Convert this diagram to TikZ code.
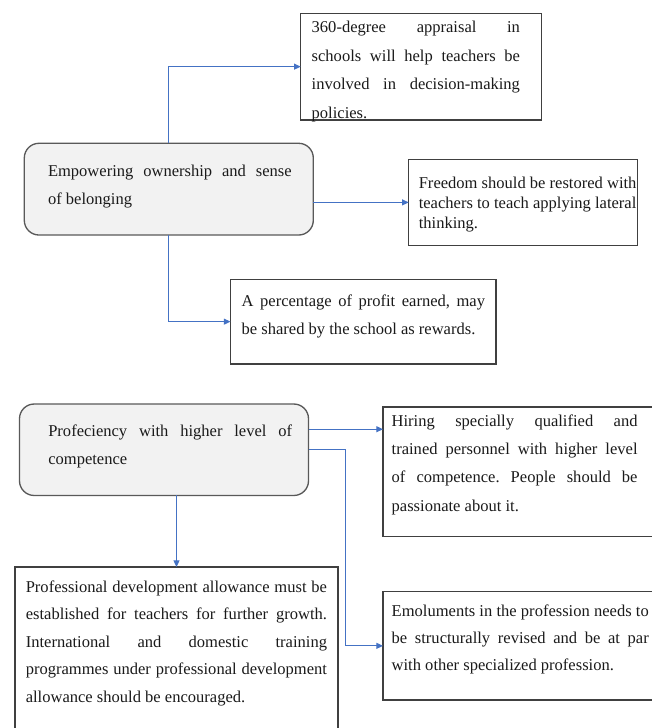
\documentclass[tikz,border=0pt]{standalone}
\usepackage{fontspec}
\setmainfont{Liberation Serif}
\usetikzlibrary{arrows.meta}
\definecolor{arrowblue}{HTML}{4472C4}
\definecolor{boxline}{HTML}{404040}
\definecolor{roundline}{HTML}{595959}
\definecolor{roundfill}{HTML}{F2F2F2}
\definecolor{txt}{HTML}{1A1A1A}
\newcommand{\jl}[2]{\makebox[#1][s]{#2}}
\newcommand{\fr}{\rule{0pt}{9pt}}
\frenchspacing
\tikzset{
  sqbox/.style={draw=boxline, line width=0.8pt, rectangle, inner sep=0pt, outer sep=0pt, fill=white},
  rbox/.style={draw=roundline, line width=1pt, fill=roundfill, rounded corners=11pt, rectangle, inner sep=0pt, outer sep=0pt},
  txtnode/.style={anchor=north west, inner sep=0pt, outer sep=0pt, align=left, text=txt},
  conn/.style={draw=arrowblue, line width=0.8pt, -{Triangle[length=5pt,width=4.5pt]}},
}
\begin{document}
\begin{tikzpicture}[x=0.75pt,y=-0.75pt]
\useasboundingbox (0,0) rectangle (651,728);
% boxes
\node[sqbox, minimum width=180.75pt, minimum height=80pt] (A) at (421.2,66.65) {};
\node[rbox, minimum width=216.75pt, minimum height=68.8pt] (E1) at (168.8,189.15) {};
\node[sqbox, minimum width=171.6pt, minimum height=64.65pt] (B) at (523.1,202.4) {};
\node[sqbox, minimum width=199.1pt, minimum height=63.5pt] (C) at (363.25,321.65) {};
\node[rbox, minimum width=216.75pt, minimum height=68.6pt] (P) at (164,449.75) {};
\node[sqbox, minimum width=204pt, minimum height=97.3pt] (H) at (519,471.85) {};
\node[sqbox, minimum width=204pt, minimum height=81.2pt] (Em) at (519,645.85) {};
\node[sqbox, minimum width=242.25pt, minimum height=126pt] (D) at (176.5,651) {};
% texts
\node[txtnode, font=\fontsize{12.4pt}{21.5pt}\selectfont] (tA) at (311.7,20.5) {\fr\jl{156.2pt}{360-degree appraisal in}\\
\jl{156.2pt}{schools will help teachers be}\\
\jl{156.2pt}{involved in decision-making}\\
policies.};
\node[txtnode, font=\fontsize{12.4pt}{21pt}\selectfont] (tE1) at (48,164.5) {\fr\jl{182.8pt}{Empowering ownership and sense}\\
of belonging};
\node[txtnode, font=\fontsize{12.4pt}{15pt}\selectfont] (tB) at (418.8,176.5) {\fr Freedom should be restored with\\
teachers to teach applying lateral\\
thinking.};
\node[txtnode, font=\fontsize{12.4pt}{21.2pt}\selectfont] (tC) at (241.7,294.2) {\fr\jl{182.5pt}{A percentage of profit earned, may}\\
be shared by the school as rewards.};
\node[txtnode, font=\fontsize{12.4pt}{21.2pt}\selectfont] (tP) at (48.3,424.2) {\fr\jl{182.8pt}{Profeciency with higher level of}\\
competence};
\node[txtnode, font=\fontsize{12.4pt}{21.2pt}\selectfont] (tH) at (391.7,414.2) {\fr\jl{184.4pt}{Hiring specially qualified and}\\
\jl{184.4pt}{trained personnel with higher level}\\
\jl{184.4pt}{of competence. People should be}\\
passionate about it.};
\node[txtnode, font=\fontsize{12.4pt}{20.6pt}\selectfont] (tD) at (25.8,580.5) {\fr\jl{225.9pt}{Professional development allowance must be}\\
\jl{225.9pt}{established for teachers for further growth.}\\
\jl{225.9pt}{International and domestic training}\\
\jl{225.9pt}{programmes under professional development}\\
allowance should be encouraged.};
\node[txtnode, font=\fontsize{12.4pt}{20.2pt}\selectfont] (tEm) at (391.7,604.5) {\fr\jl{192.8pt}{Emoluments in the profession needs to}\\
\jl{192.8pt}{be structurally revised and be at par}\\
with other specialized profession.};
% connectors
\draw[conn] (E1.north) |- (A.west);
\draw[conn] (E1.east |- B.west) -- (B.west);
\draw[conn] (E1.south) |- (C.west);
\draw[conn] ([yshift=15.4pt]P.east) -- ([yshift=15.4pt]P.east -| H.west);
\coordinate (pbend) at (345.5,449.75);
\draw[conn] (P.east) -- (pbend) |- (Em.west);
\draw[conn] (P.south -| D.north) -- (D.north);
\end{tikzpicture}
\end{document}
